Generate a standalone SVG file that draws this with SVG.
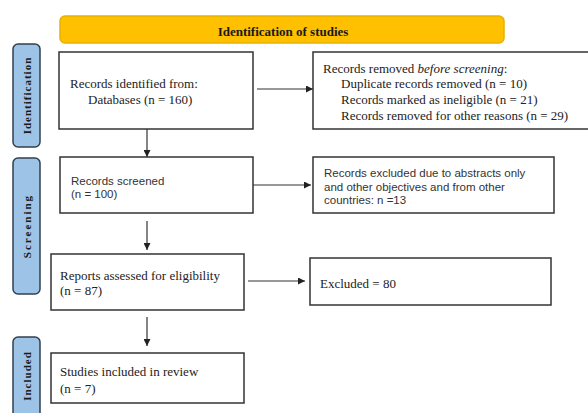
<svg xmlns="http://www.w3.org/2000/svg" width="588" height="413" viewBox="0 0 588 413">
<style>
.box{fill:#fff;stroke:#333;stroke-width:1.5}
.side{fill:#9DC3E6;stroke:#33404d;stroke-width:1.5}
.serif{font-family:"Liberation Serif","Times New Roman",serif;font-size:13px;fill:#222}
.sans{font-family:"Liberation Sans",Arial,sans-serif;font-size:11.5px;fill:#333}
.lbl{font-family:"Liberation Serif","Times New Roman",serif;font-size:11px;font-weight:bold;letter-spacing:1px;fill:#1a1a1a;text-anchor:middle}
.con{stroke:#333;stroke-width:1.2;fill:none;marker-end:url(#ah)}
</style>
<defs>
<marker id="ah" viewBox="0 0 10 10" refX="10" refY="5" markerWidth="7" markerHeight="7" markerUnits="userSpaceOnUse" orient="auto">
<path d="M0,0 L10,5 L0,10 z" fill="#222"/>
</marker>
</defs>
<rect width="588" height="413" fill="#fff"/>
<g id="banner">
<rect x="60" y="16" width="444" height="27" rx="5" fill="#FFC000" stroke="#E8B000" stroke-width="1.5"/>
<text x="283" y="36" class="serif" style="font-weight:bold;text-anchor:middle;fill:#1a1a1a">Identification of studies</text>
</g>
<g id="side-identification">
<rect x="13" y="44" width="27" height="103" rx="5" class="side"/>
<text class="lbl" transform="translate(31,95.5) rotate(-90)">Identification</text>
</g>
<g id="side-screening">
<rect x="13" y="158" width="27" height="136" rx="5" class="side"/>
<text class="lbl" style="letter-spacing:2px" transform="translate(31,226) rotate(-90)">Screening</text>
</g>
<g id="side-included">
<rect x="13" y="337" width="27" height="100" rx="5" class="side"/>
<text class="lbl" transform="translate(31,376) rotate(-90)">Included</text>
</g>
<g id="n-identified">
<rect x="59" y="52" width="194" height="77" class="box"/>
<text class="serif" x="70" y="88">Records identified from:</text>
<text class="serif" x="88" y="104">Databases (n = 160)</text>
</g>
<g id="n-removed">
<rect x="313" y="52" width="285" height="77" class="box"/>
<text class="serif" x="323" y="73">Records removed <tspan font-style="italic">before screening</tspan>:</text>
<text class="serif" x="341" y="88">Duplicate records removed (n = 10)</text>
<text class="serif" x="341" y="103.5">Records marked as ineligible (n = 21)</text>
<text class="serif" x="341" y="119.5">Records removed for other reasons (n = 29)</text>
</g>
<g id="n-screened">
<rect x="60" y="157" width="193" height="56" class="box"/>
<text class="sans" x="71" y="185">Records screened</text>
<text class="sans" x="71" y="198">(n = 100)</text>
</g>
<g id="n-excluded-abstracts">
<rect x="313" y="157" width="241" height="56" class="box"/>
<text class="sans" x="324" y="177">Records excluded due to abstracts only</text>
<text class="sans" x="324" y="190.5">and other objectives and from other</text>
<text class="sans" x="324" y="204">countries: n =13</text>
</g>
<g id="n-reports">
<rect x="51" y="254" width="193" height="56" class="box"/>
<text class="serif" x="60" y="279.5">Reports assessed for eligibility</text>
<text class="serif" x="60" y="295">(n = 87)</text>
</g>
<g id="n-excluded">
<rect x="310" y="258" width="241" height="47" class="box"/>
<text class="serif" x="320" y="288">Excluded = 80</text>
</g>
<g id="n-included">
<rect x="51" y="353" width="193" height="50" class="box"/>
<text class="serif" x="60" y="376">Studies included in review</text>
<text class="serif" x="60" y="392.5">(n = 7)</text>
</g>
<g id="connectors">
<line class="con" x1="257" y1="89" x2="313" y2="89"/>
<line class="con" x1="147" y1="129" x2="147" y2="157"/>
<line class="con" x1="253" y1="185" x2="311" y2="185"/>
<line class="con" x1="147" y1="221" x2="147" y2="250"/>
<line class="con" x1="248" y1="281" x2="305" y2="281"/>
<line class="con" x1="147" y1="317" x2="147" y2="346"/>
</g>
</svg>
